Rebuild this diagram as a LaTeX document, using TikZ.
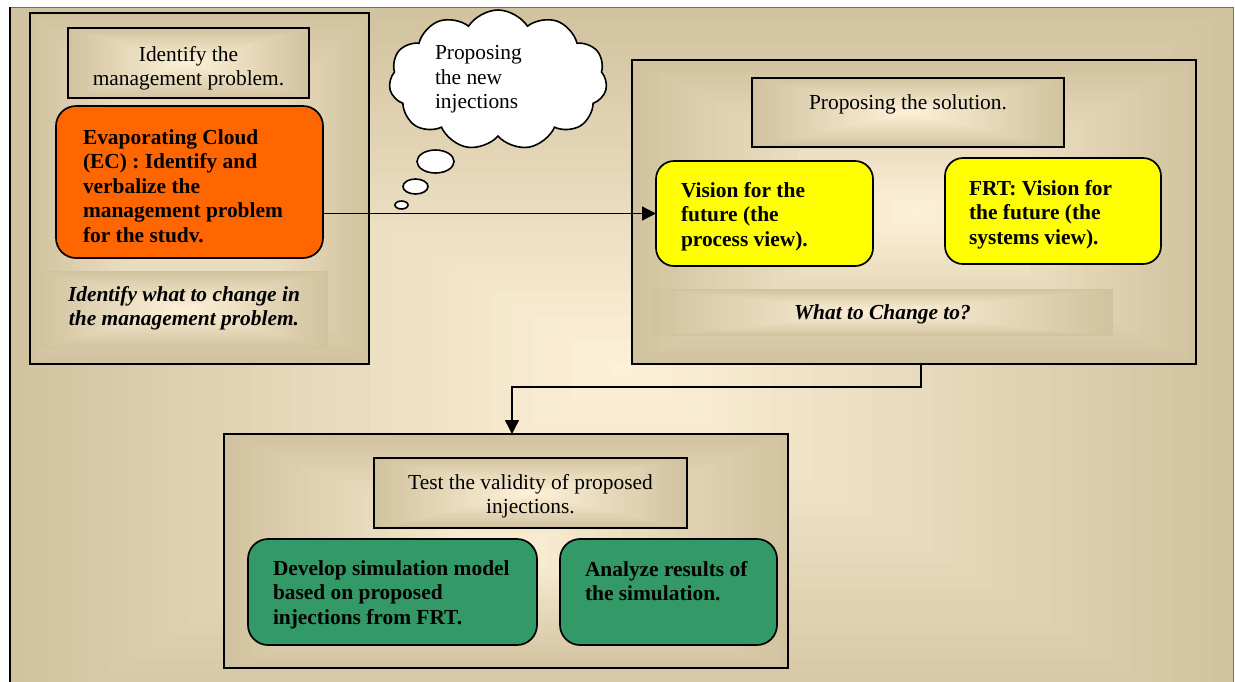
\documentclass[tikz,border=0pt]{standalone}
\usepackage{fontspec}
\setmainfont{Liberation Serif}
\usetikzlibrary{shapes.symbols,shapes.geometric,arrows.meta,calc}

\definecolor{tanE}{RGB}{210,195,160}
\definecolor{tanC}{RGB}{253,241,216}
\definecolor{ecorange}{RGB}{255,102,0}
\definecolor{visyellow}{RGB}{255,255,0}
\definecolor{simgreen}{RGB}{51,153,102}
\definecolor{framegray}{RGB}{110,110,110}

% rectangular "from centre" gradient: nested rectangles from tan edge to cream centre
\newcommand\gradfill{%
  \path (path picture bounding box.south west) coordinate (gA)
        (path picture bounding box.north east) coordinate (gB);
  \foreach \gi in {0,...,30}{%
    \pgfmathtruncatemacro\gmix{100*\gi/30}%
    \fill[tanC!\gmix!tanE] ($(gA)!{\gi/61}!(gB)$) rectangle ($(gB)!{\gi/61}!(gA)$);
  }%
}

% box given by its corners (x1,y1) and (x2,y2)
\newcommand\boxnode[6]{%
  \node[#1, minimum width={(#5-#3)*1pt}, minimum height={(#6-#4)*1pt}]
    (#2) at ({(#3+#5)/2},{(#4+#6)/2}) {};%
}

\tikzset{
  every node/.style={inner sep=0pt, outer sep=0pt,
    font=\fontsize{21.4pt}{24.5pt}\selectfont},
  gradpanel/.style={rectangle, path picture={\gradfill}},
  container/.style={gradpanel, draw=black, line width=2pt},
  titlebox/.style={gradpanel, draw=black, line width=2pt},
  roundbox/.style={rectangle, draw=black, line width=1.7pt, rounded corners=20pt},
  plaintext/.style={align=center, anchor=north},
  boldtext/.style={align=left, anchor=north west,
    font=\fontsize{21.4pt}{24.5pt}\selectfont\bfseries},
  italtext/.style={align=center, anchor=north,
    font=\fontsize{21.4pt}{24.5pt}\selectfont\bfseries\itshape},
  bubble/.style={ellipse, draw=black, fill=white, line width=1.6pt},
  connector/.style={line width=1.4pt, -{Triangle[length=14pt,width=14pt]}},
}

\begin{document}
\begin{tikzpicture}[x=1pt,y=-1pt]
\useasboundingbox (0,0) rectangle (1235,681);

% outer frame
\boxnode{gradpanel}{frame}{10}{7}{1233}{730}
\draw[framegray, line width=1pt] (frame.south east) -- (frame.north east) -- (frame.north west);
\draw[black, line width=2.5pt] (frame.north west) -- (frame.south west);

% left panel: identify the problem
\boxnode{container}{leftbox}{30}{13}{369}{364}
\boxnode{titlebox}{probbox}{68}{28}{309}{98}
\boxnode{roundbox, fill=ecorange}{ecbox}{56}{106}{323}{258}
\boxnode{gradpanel}{changebox}{40}{271}{328}{348}

% right panel: proposing the solution
\boxnode{container}{solbox}{632}{60}{1196}{364}
\boxnode{titlebox}{soltitle}{752}{78}{1064}{147}
\boxnode{roundbox, rounded corners=18pt, fill=visyellow}{visproc}{656}{161}{873}{266}
\boxnode{roundbox, rounded corners=18pt, fill=visyellow}{vissys}{945}{158}{1161}{264}
\boxnode{gradpanel}{whatbox}{652}{289}{1113}{336}

% bottom panel: testing the injections
\boxnode{container}{testbox}{224}{434}{788}{668}
\boxnode{titlebox}{testtitle}{374}{458}{687}{528}
\boxnode{roundbox, fill=simgreen}{simmodel}{248}{539}{537}{645}
\boxnode{roundbox, fill=simgreen}{simresult}{560}{539}{777}{645}

% thought cloud with its trailing bubbles
\node[cloud, cloud puffs=11, cloud puff arc=115, draw=black, fill=white,
      line width=1.6pt, minimum width=218pt, minimum height=140pt] (thought) at (498,80) {};
\node[bubble, minimum width=37pt, minimum height=23pt] (bubA) at (435.5,161.5) {};
\node[bubble, minimum width=25pt, minimum height=15pt] (bubB) at (415.5,186.5) {};
\node[bubble, minimum width=13pt, minimum height=8pt] (bubC) at (401.5,205) {};

% connectors
\draw[connector] (ecbox.east |- visproc.west) -- (visproc.west);
\coordinate (turn) at (700,387);
\draw[connector] ([xshift=7pt]solbox.south) |- (turn) -| ([xshift=6pt]testbox.north);

% texts
\node[plaintext] (probtxt) at (188.5,46) {Identify the\\management problem.};
\node[boldtext] (ectxt) at (83,129.2) {Evaporating Cloud\\(EC) : Identify and\\verbalize the\\management problem\\for the studv.};
\node[italtext] (changetxt) at (184,286.2) {Identify what to change in\\the management problem.};
\node[align=left, anchor=north west] (thoughttxt) at (435,45.5) {Proposing\\the new\\injections};

\node[plaintext] (soltxt) at (908,94.5) {Proposing the solution.};
\node[boldtext] (visproctxt) at (681,182.2) {Vision for the\\future (the\\process view).};
\node[boldtext] (vissystxt) at (969,180.2) {FRT: Vision for\\the future (the\\systems view).};
\node[italtext] (whattxt) at (882.5,304.2) {What to Change to?};

\node[plaintext] (testtxt) at (530.5,474.2) {Test the validity of proposed\\injections.};
\node[boldtext] (simmodeltxt) at (273,560.2) {Develop simulation model\\based on proposed\\injections from FRT.};
\node[boldtext] (simresulttxt) at (585,561.2) {Analyze results of\\the simulation.};
\end{tikzpicture}
\end{document}
